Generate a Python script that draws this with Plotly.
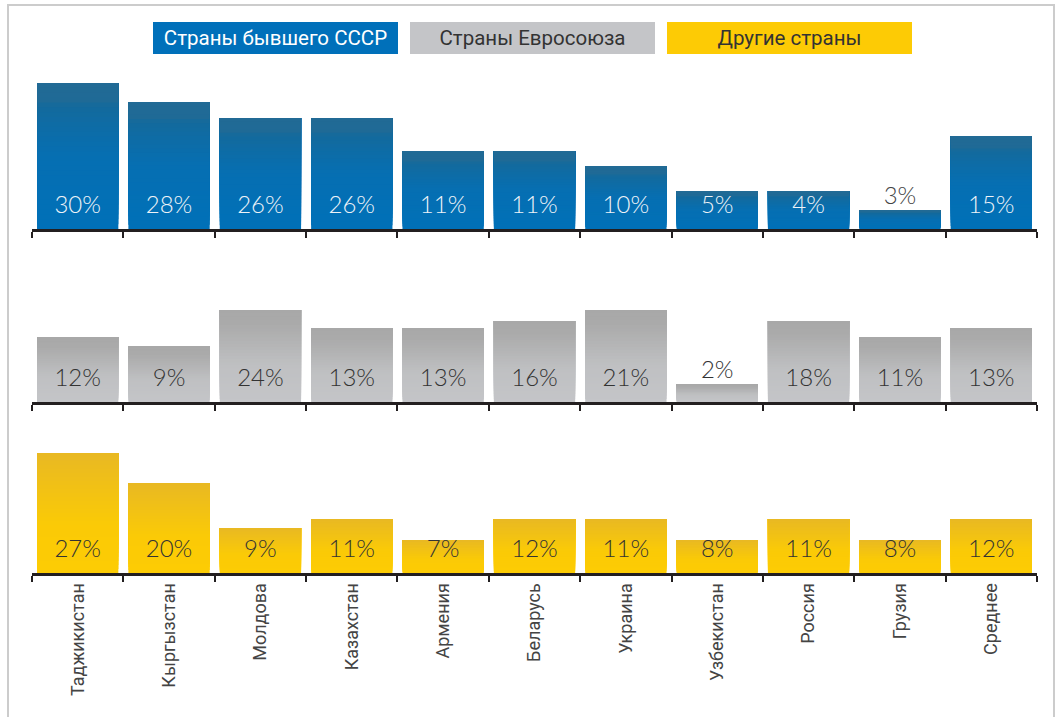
import plotly.graph_objects as go

# DATA -------------------------------------------------------------------------------------------

countries = ['Таджикистан', 'Кыргызстан', 'Молдова', 'Казахстан', 'Армения', 'Беларусь',
             'Украина', 'Узбекистан', 'Россия', 'Грузия', 'Среднее']

groups = ['Страны бывшего СССР', 'Страны Евросоюза', 'Другие страны']

# printed shares, %
pct_ussr = [30, 28, 26, 26, 11, 11, 10, 5, 4, 3, 15]
pct_eu = [12, 9, 24, 13, 13, 16, 21, 2, 18, 11, 13]
pct_other = [27, 20, 9, 11, 7, 12, 11, 8, 11, 8, 12]

# bar lengths as drawn in the picture (the bars are not to scale with the printed shares)
bar_ussr = [146, 127, 111, 111, 78, 78, 63, 38, 38, 19, 93]
bar_eu = [65, 56, 92, 74, 74, 81, 92, 18, 81, 65, 74]
bar_other = [120, 90, 45, 54, 33, 54, 54, 33, 54, 33, 54]

# PLOT -------------------------------------------------------------------------------------------

W, H = 1055, 717
FONT = 'Roboto'
STEPS = 30

# vertical gradients: (fraction of bar height from the top, colour)
grad_blue = [(0, '#216a95'), (0.12, '#1f6a96'), (0.16, '#136a9d'), (0.5, '#066fb2'), (1, '#0070b8')]
grad_grey = [(0, '#a8a8a8'), (0.15, '#aaaaaa'), (0.6, '#bfc0c2'), (1, '#c4c5c8')]
grad_yellow = [(0, '#e8b923'), (0.6, '#fbca06'), (1, '#fdcc04')]

rows = [
    dict(bars=bar_ussr, pct=pct_ussr, grad=grad_blue, text_in='#eef3f8', text_out='#444444', base=229),
    dict(bars=bar_eu, pct=pct_eu, grad=grad_grey, text_in='#333333', text_out='#333333', base=402),
    dict(bars=bar_other, pct=pct_other, grad=grad_yellow, text_in='#333333', text_out='#333333', base=573),
]
legend_colors = ['#0070ba', '#c4c5c8', '#fdcb05']
legend_text = ['#ffffff', '#333333', '#333333']

span = 160  # px of plot height per row, 1 unit = 1 px


def hex2rgb(h):
    return [int(h[i:i + 2], 16) for i in (1, 3, 5)]


def grad_color(stops, f):
    for (f0, c0), (f1, c1) in zip(stops[:-1], stops[1:]):
        if f0 <= f <= f1:
            t = (f - f0) / (f1 - f0)
            a, b = hex2rgb(c0), hex2rgb(c1)
            return 'rgb(%d,%d,%d)' % tuple(round(a[k] + (b[k] - a[k]) * t) for k in range(3))
    return stops[-1][1]


fig = go.Figure()

for i, r in enumerate(rows):
    n = '' if i == 0 else str(i + 1)
    xa, ya = 'x' + n, 'y' + n

    # stacked-over bars, each one shorter from the top, fake the gradient
    for j in range(STEPS):
        f = (STEPS - j) / STEPS
        col = grad_color(r['grad'], f - 0.5 / STEPS)
        fig.add_trace(go.Bar(x=countries, y=[b * f for b in r['bars']],
                             base=[b * (1 - f) for b in r['bars']], xaxis=xa, yaxis=ya,
                             marker=dict(color=col, line=dict(width=0)),
                             width=0.89, hoverinfo='skip', showlegend=False))

    # labels sit near the base, or above the bar when it is too short
    lab_y = [22 if b >= 30 else b + 12 for b in r['bars']]
    lab_c = [r['text_in'] if b >= 30 else r['text_out'] for b in r['bars']]
    fig.add_trace(go.Scatter(x=countries, y=lab_y, xaxis=xa, yaxis=ya, mode='text',
                             text=[f'{p}%' for p in r['pct']],
                             textfont=dict(family='Lato', size=24, color=lab_c, weight=300),
                             hoverinfo='skip', showlegend=False))

    bottom = (H - r['base']) / H
    top = (H - r['base'] + span) / H
    fig.layout['xaxis' + n] = dict(
        type='category', domain=[32 / W, 1037 / W], range=[-0.5, 10.5], anchor=ya,
        showline=True, linewidth=3, linecolor='#231f20',
        ticks='outside', ticklen=6, tickwidth=2, tickcolor='#231f20', tickson='boundaries',
        showgrid=False, zeroline=False, fixedrange=True,
        showticklabels=(i == 2), tickangle=-90,
        tickfont=dict(family=FONT, size=18, color='#444444'),
    )
    fig.layout['yaxis' + n] = dict(domain=[bottom, top], range=[0, span], anchor=xa,
                                   visible=False, fixedrange=True)

# legend boxes
for k, g in enumerate(groups):
    fig.add_annotation(x=(275.5 + k * 257) / W, y=(H - 38) / H, xref='paper', yref='paper',
                       xanchor='center', yanchor='middle',
                       text=g, showarrow=False, width=245, height=32, bgcolor=legend_colors[k],
                       borderpad=0, borderwidth=0,
                       font=dict(family=FONT, size=20.5, color=legend_text[k]))

# frame
fig.add_shape(type='rect', xref='paper', yref='paper', x0=8 / W, x1=1054 / W,
              y0=-0.1, y1=(H - 5) / H, line=dict(color='#cccccc', width=2))

fig.update_layout(width=W, height=H, margin=dict(l=0, r=0, t=0, b=0),
                  plot_bgcolor='white', paper_bgcolor='white', barmode='overlay',
                  font=dict(family=FONT))

fig.write_html("out.html", config={'displayModeBar': False},
               post_script="document.body.style.margin='0';")
